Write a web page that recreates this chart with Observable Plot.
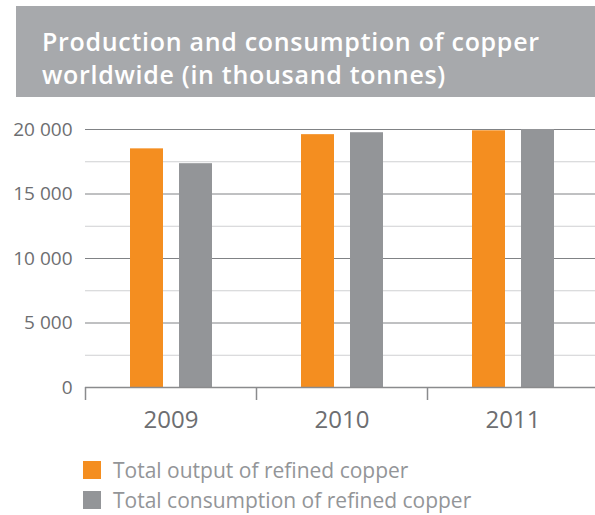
<!DOCTYPE html>
<html>
<head>
<meta charset="utf-8">
<script src="https://cdn.jsdelivr.net/npm/d3@7"></script>
<script src="https://cdn.jsdelivr.net/npm/@observablehq/plot@0.6"></script>
<style>
  html, body { margin: 0; padding: 0; background: #fff; }
  body { width: 595px; height: 515px; position: relative; overflow: hidden; font-family: "Open Sans", sans-serif; }
  #title { position: absolute; left: 16px; top: 6px; width: 579px; height: 91px; background: #a7a9ac; color: #fff;
           font-weight: 600; font-size: 25px; letter-spacing: 0.7px; line-height: 33px; box-sizing: border-box; padding: 19px 0 0 26px; }
  #chart { position: absolute; left: 0; top: 110px; }
  #legend { position: absolute; left: 83px; top: 461px; font-size: 21px; color: #939598; }
  .row { display: flex; align-items: center; height: 18px; margin-bottom: 12px; white-space: nowrap; }
  .sw { width: 18px; height: 18px; margin-right: 12px; flex: none; }
</style>
</head>
<body>
<div id="title">Production and consumption of copper<br>worldwide (in thousand tonnes)</div>
<div id="chart"></div>
<div id="legend"></div>
<script>
const years = ["2009", "2010", "2011"];
const seriesNames = ["Total output of refined copper", "Total consumption of refined copper"];
const outputValues = [18500, 19600, 19900];
const consumptionValues = [17350, 19750, 20000];
const seriesColors = ["#f48e20", "#939598"];
const yTicks = [0, 5000, 10000, 15000, 20000];
const yMinorTicks = [2500, 7500, 12500, 17500];

const data = [];
years.forEach((yr, i) => {
  data.push({year: yr, series: seriesNames[0], value: outputValues[i]});
  data.push({year: yr, series: seriesNames[1], value: consumptionValues[i]});
});

const fmt = d => d3.format(",")(d).replace(/,/g, " ");

const chart = Plot.plot({
  width: 595,
  height: 330,
  marginLeft: 85,
  marginRight: 0,
  marginTop: 19,
  marginBottom: 53,
  style: {fontFamily: "Open Sans, sans-serif", color: "#6d6e71", background: "transparent", overflow: "visible"},
  fx: {domain: years, range: [85, 598], padding: 0, axis: null, label: null},
  x: {domain: seriesNames, paddingInner: 0.327, paddingOuter: 0.908, align: 0.5, axis: null},
  y: {domain: [0, 20000], axis: null},
  color: {domain: seriesNames, range: seriesColors},
  marks: [
    Plot.ruleY(yMinorTicks, {stroke: "#cfd0d2", strokeWidth: 1}),
    Plot.ruleY(yTicks.filter(d => d > 0), {stroke: "#808285", strokeWidth: 1}),
    Plot.barY(data, {fx: "year", x: "series", y: "value", fill: "series"}),
    Plot.ruleY([0], {stroke: "#8a8b8d", strokeWidth: 1.5}),
    Plot.axisY({ticks: yTicks, tickSize: 0, tickPadding: 13, tickFormat: fmt, fontSize: 19, label: null}),
    Plot.axisFx({anchor: "bottom", tickSize: 13, tickFormat: () => "", dx: -85.5, stroke: "#8a8b8d", strokeWidth: 1.5, label: null}),
    Plot.axisFx({anchor: "bottom", tickSize: 0, tickPadding: 23, fontSize: 24, label: null})
  ]
});
document.getElementById("chart").appendChild(chart);

const legend = document.getElementById("legend");
seriesNames.forEach((name, i) => {
  const row = document.createElement("div");
  row.className = "row";
  const sw = document.createElement("span");
  sw.className = "sw";
  sw.style.background = seriesColors[i];
  const label = document.createElement("span");
  label.textContent = name;
  row.appendChild(sw);
  row.appendChild(label);
  legend.appendChild(row);
});
</script>
</body>
</html>
